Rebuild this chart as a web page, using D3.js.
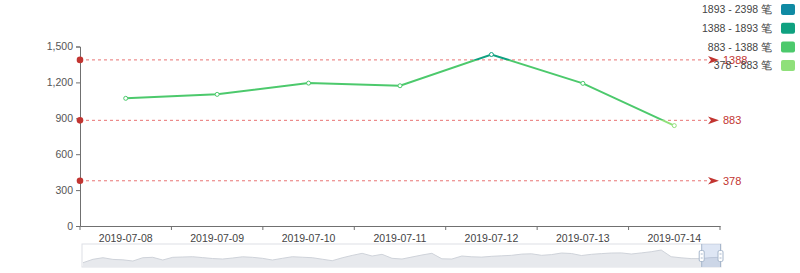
<!DOCTYPE html>
<html><head><meta charset="utf-8">
<script src="https://cdn.jsdelivr.net/npm/d3@7/dist/d3.min.js"></script>
<style>body{margin:0;background:#fff}svg{display:block;font-family:"Liberation Sans",Arial,sans-serif}</style>
</head><body><svg id="c" width="800" height="273"></svg>
<script>
const categories = ["2019-07-08","2019-07-09","2019-07-10","2019-07-11","2019-07-12","2019-07-13","2019-07-14"];
const values = [1067, 1100, 1194, 1172, 1433, 1192, 839];
const yTicks = [0, 300, 600, 900, 1200, 1500];
const markLines = [1388, 883, 378];
const pieces = [
  {min: 1893, max: 2398, color: "#0f8aa3"},
  {min: 1388, max: 1893, color: "#0fa180"},
  {min: 883, max: 1388, color: "#4cc96c"},
  {min: 378, max: 883, color: "#8fe07a"}
];
const shadowValues = [739,928,1017,922,900,833,1017,1039,889,1039,1056,1072,1022,972,944,1000,1067,1039,983,889,983,1072,1044,1017,933,850,1011,1145,1261,1111,1206,983,944,1056,1167,1261,956,944,1111,1067,1050,1095,1122,1150,1217,1234,1150,1189,1278,1250,1139,1206,1245,1278,1284,1222,1284,1350,1445,1072,1011,967,967,1022,1039];
const zoomStart = 96.9, zoomEnd = 100;

(function () {
const svg = d3.select("#c");
const gLeft = 80, gRight = 720, gTop = 46.5, gBottom = 226;
const x = d3.scaleBand().domain(categories).range([gLeft, gRight]);
const y = d3.scaleLinear().domain([0, 1500]).range([gBottom, gTop]);
const cx = d => x(d) + x.bandwidth() / 2;
const FONT = "Liberation Sans, Arial, sans-serif";
const AX = "#707070";

// Y axis
const ya = svg.append("g").attr("transform", `translate(${gLeft},0)`)
  .call(d3.axisLeft(y).tickValues(yTicks).tickSize(4).tickPadding(3).tickFormat(d3.format(",")));
ya.select(".domain").attr("stroke", AX);
ya.selectAll(".tick line").attr("stroke", AX);
ya.selectAll("text").attr("fill", "#555").attr("font-size", "10.5px").attr("font-family", FONT);

// X axis
const xa = svg.append("g").attr("transform", `translate(0,${gBottom})`)
  .call(d3.axisBottom(x).tickSize(0).tickPadding(9));
xa.select(".domain").attr("stroke", AX);
xa.selectAll("text").attr("fill", "#444").attr("font-size", "10.5px").attr("font-family", FONT);
const bounds = categories.map(c => x(c)).concat([x.range()[1]]);
svg.append("g").selectAll("line").data(bounds).join("line")
  .attr("x1", d => d).attr("x2", d => d).attr("y1", gBottom).attr("y2", gBottom + 4)
  .attr("stroke", AX);

// Mark lines
const ml = svg.append("g");
markLines.forEach(v => {
  const yy = y(v);
  ml.append("line").attr("x1", gLeft).attr("x2", 710).attr("y1", yy).attr("y2", yy)
    .attr("stroke", "#e87474").attr("stroke-width", 1).attr("stroke-dasharray", "3,3");
  ml.append("circle").attr("cx", gLeft).attr("cy", yy).attr("r", 3.3).attr("fill", "#c23531");
  ml.append("path").attr("d", `M708,${yy-3.8} L719,${yy} L708,${yy+3.8} L711,${yy} Z`).attr("fill", "#c23531");
  ml.append("text").attr("x", 723).attr("y", yy).attr("dy", "0.35em").attr("fill", "#c23531")
    .attr("font-size", "11px").attr("font-family", FONT).text(v);
});

// Gradient for line by visual map pieces
const defs = svg.append("defs");
const grad = defs.append("linearGradient").attr("id", "lg").attr("gradientUnits", "userSpaceOnUse")
  .attr("x1", 0).attr("x2", 0).attr("y1", y(0)).attr("y2", y(1500));
const stops = [];
const sorted = pieces.slice().sort((a, b) => a.min - b.min);
sorted.forEach(p => {
  const a = Math.max(0, Math.min(1, p.min / 1500)), b = Math.max(0, Math.min(1, p.max / 1500));
  stops.push({o: a, c: p.color}, {o: b, c: p.color});
});
stops[0].o = 0;
grad.selectAll("stop").data(stops).join("stop").attr("offset", d => d.o).attr("stop-color", d => d.c);

const colorOf = v => { const p = pieces.find(p => v >= p.min && v <= p.max); return p ? p.color : sorted[0].color; };

svg.append("path").datum(values)
  .attr("d", d3.line().x((d, i) => cx(categories[i])).y(d => y(d)))
  .attr("fill", "none").attr("stroke", "url(#lg)").attr("stroke-width", 2);
svg.append("g").selectAll("circle").data(values).join("circle")
  .attr("cx", (d, i) => cx(categories[i])).attr("cy", d => y(d)).attr("r", 2)
  .attr("fill", "#fff").attr("stroke", d => colorOf(d)).attr("stroke-width", 1);

// Visual map legend
const lg = svg.append("g");
pieces.forEach((p, i) => {
  const yy = 9.5 + i * 18.7;
  lg.append("rect").attr("x", 781).attr("y", yy - 5.5).attr("width", 14).attr("height", 11)
    .attr("rx", 2).attr("fill", p.color);
  lg.append("text").attr("x", 772).attr("y", yy).attr("dy", "0.35em").attr("text-anchor", "end")
    .attr("fill", "#444").attr("font-size", "10.5px").attr("font-family", FONT).text(`${p.min} - ${p.max} 笔`);
});

// Data zoom slider
const zx0 = 82, zx1 = 721, zy0 = 244, zy1 = 267;
const sx = d3.scaleLinear().domain([0, shadowValues.length - 1]).range([zx0 + 1, zx1]);
const sy = d3.scaleLinear().domain([500, 1780]).range([zy1, zy0]);
const dz = svg.append("g");
dz.append("rect").attr("x", zx0).attr("y", zy0).attr("width", zx1 - zx0).attr("height", zy1 - zy0)
  .attr("fill", "none").attr("stroke", "#dde0e6");
dz.append("path").datum(shadowValues)
  .attr("d", d3.area().x((d, i) => sx(i)).y0(zy1).y1(d => sy(d)))
  .attr("fill", "#e7e9ed");
dz.append("path").datum(shadowValues)
  .attr("d", d3.line().x((d, i) => sx(i)).y(d => sy(d)))
  .attr("fill", "none").attr("stroke", "#cfd3da").attr("stroke-width", 1);
const pz = d3.scaleLinear().domain([0, 100]).range([zx0, zx1]);
const h0 = pz(zoomStart) + 0.5, h1 = pz(zoomEnd) - 0.5;
dz.append("rect").attr("x", h0).attr("y", zy0).attr("width", h1 - h0).attr("height", zy1 - zy0)
  .attr("fill", "rgba(135,165,214,0.28)");
[h0, h1].forEach(hx => {
  dz.append("line").attr("x1", hx).attr("x2", hx).attr("y1", zy0).attr("y2", zy1)
    .attr("stroke", "#a7b7cc").attr("stroke-width", 1);
  dz.append("rect").attr("x", hx - 2.5).attr("y", 250.5).attr("width", 5).attr("height", 11).attr("rx", 1.5)
    .attr("fill", "#fff").attr("stroke", "#a7b7cc");
  dz.append("line").attr("x1", hx - 1).attr("x2", hx + 1).attr("y1", 254).attr("y2", 254).attr("stroke", "#a7b7cc");
  dz.append("line").attr("x1", hx - 1).attr("x2", hx + 1).attr("y1", 258).attr("y2", 258).attr("stroke", "#a7b7cc");
});
})();
</script></body></html>
